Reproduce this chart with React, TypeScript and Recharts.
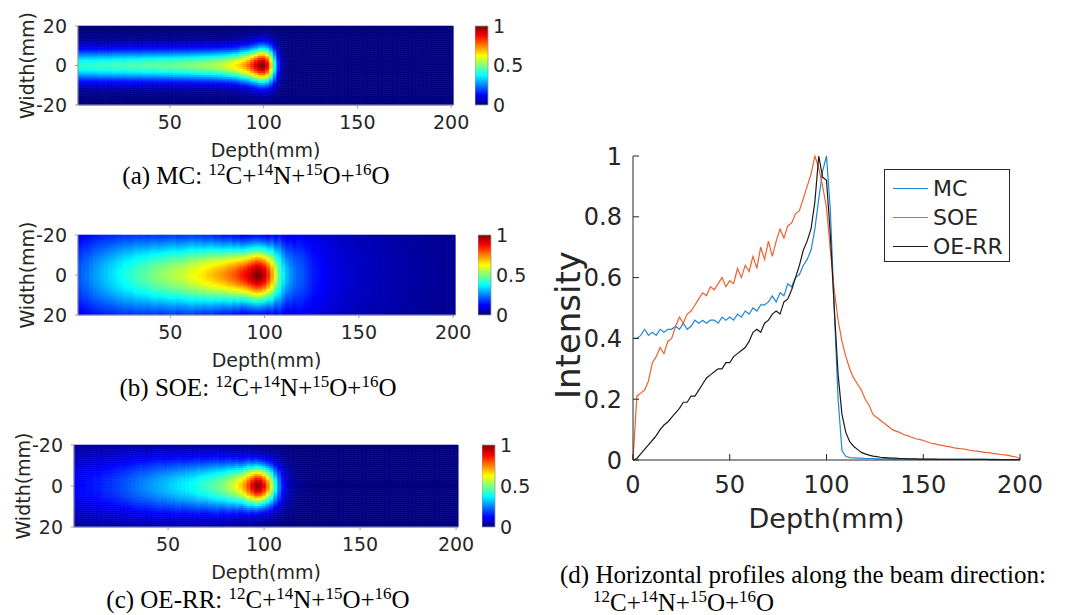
import React from 'react';
import { ComposedChart, BarChart, LineChart, Bar, Line, Cell, XAxis, YAxis, Legend } from 'recharts';

// depth grid (mm), 2 mm steps
const depths = Array.from({ length: 101 }, (_, i) => i * 2);

// (d) horizontal profiles along the beam, read every 2 mm
const mcProfile = [
  0.40, 0.40, 0.41, 0.43, 0.41, 0.42, 0.41, 0.43, 0.42, 0.43,
  0.43, 0.44, 0.43, 0.45, 0.43, 0.44, 0.46, 0.45, 0.46, 0.45,
  0.46, 0.46, 0.45, 0.47, 0.46, 0.47, 0.46, 0.48, 0.47, 0.49,
  0.48, 0.50, 0.49, 0.51, 0.51, 0.52, 0.54, 0.52, 0.55, 0.54,
  0.58, 0.57, 0.60, 0.61, 0.64, 0.66, 0.69, 0.76, 0.86, 0.95,
  1.00, 0.82, 0.50, 0.20, 0.03, 0.012, 0.008, 0.007, 0.006, 0.006,
  0.005, 0.005, 0.005, 0.004, 0.004, 0.004, 0.004, 0.003, 0.003, 0.003,
  0.003, 0.003, 0.003, 0.003, 0.002, 0.003, 0.002, 0.002, 0.002, 0.002,
  0.002, 0.002, 0.002, 0.002, 0.002, 0.002, 0.002, 0.002, 0.002, 0.002,
  0.002, 0.002, 0.002, 0.001, 0.002, 0.001, 0.001, 0.001, 0.001, 0.001,
  0.001,
];
const soeProfile = [
  0.00, 0.21, 0.22, 0.23, 0.26, 0.32, 0.34, 0.37, 0.35, 0.39,
  0.40, 0.44, 0.47, 0.45, 0.48, 0.49, 0.51, 0.53, 0.55, 0.54,
  0.57, 0.56, 0.58, 0.60, 0.57, 0.59, 0.58, 0.63, 0.60, 0.64,
  0.62, 0.67, 0.63, 0.70, 0.66, 0.72, 0.67, 0.72, 0.76, 0.73,
  0.77, 0.78, 0.81, 0.82, 0.86, 0.90, 0.94, 1.00, 0.96, 0.90,
  0.83, 0.69, 0.56, 0.46, 0.39, 0.34, 0.30, 0.27, 0.25, 0.23,
  0.20, 0.18, 0.15, 0.14, 0.13, 0.12, 0.11, 0.10, 0.095, 0.09,
  0.083, 0.08, 0.075, 0.07, 0.068, 0.064, 0.06, 0.055, 0.053, 0.05,
  0.048, 0.045, 0.043, 0.04, 0.038, 0.037, 0.035, 0.032, 0.03, 0.029,
  0.027, 0.025, 0.024, 0.022, 0.02, 0.018, 0.017, 0.015, 0.012, 0.01,
  0.004,
];
const oerrProfile = [
  0.00, 0.005, 0.02, 0.035, 0.05, 0.065, 0.08, 0.10, 0.115, 0.125,
  0.14, 0.155, 0.17, 0.19, 0.19, 0.21, 0.21, 0.23, 0.25, 0.27,
  0.28, 0.29, 0.30, 0.30, 0.32, 0.32, 0.34, 0.35, 0.36, 0.37,
  0.39, 0.42, 0.43, 0.42, 0.45, 0.46, 0.48, 0.49, 0.48, 0.52,
  0.53, 0.56, 0.60, 0.64, 0.69, 0.72, 0.76, 0.85, 1.00, 0.93,
  0.92, 0.74, 0.50, 0.28, 0.15, 0.09, 0.06, 0.045, 0.035, 0.025,
  0.02, 0.016, 0.013, 0.011, 0.009, 0.008, 0.007, 0.006, 0.006, 0.005,
  0.005, 0.004, 0.004, 0.004, 0.003, 0.003, 0.003, 0.003, 0.003, 0.002,
  0.002, 0.002, 0.002, 0.002, 0.002, 0.002, 0.002, 0.002, 0.002, 0.002,
  0.002, 0.002, 0.001, 0.002, 0.001, 0.001, 0.001, 0.001, 0.001, 0.001,
  0.001,
];

// (a)-(c) intensity on the beam axis of each map, read every 2 mm
const mcMapAxis = [
  0.41, 0.41, 0.42, 0.42, 0.42, 0.42, 0.43, 0.43, 0.43, 0.43,
  0.44, 0.44, 0.44, 0.44, 0.45, 0.45, 0.45, 0.45, 0.46, 0.46,
  0.46, 0.46, 0.47, 0.47, 0.47, 0.47, 0.48, 0.48, 0.48, 0.49,
  0.49, 0.50, 0.50, 0.51, 0.52, 0.52, 0.53, 0.54, 0.55, 0.56,
  0.58, 0.60, 0.62, 0.65, 0.68, 0.72, 0.77, 0.84, 0.92, 0.98,
  1.00, 0.90, 0.68, 0.40, 0.16, 0.05, 0.015, 0.005, 0, 0,
  0, 0, 0, 0, 0, 0, 0, 0, 0, 0,
  0, 0, 0, 0, 0, 0, 0, 0, 0, 0,
  0, 0, 0, 0, 0, 0, 0, 0, 0, 0,
  0, 0, 0, 0, 0, 0, 0, 0, 0, 0,
  0,
];
const soeMapAxis = [
  0.20, 0.21, 0.23, 0.24, 0.26, 0.28, 0.29, 0.31, 0.32, 0.34,
  0.35, 0.37, 0.38, 0.40, 0.41, 0.42, 0.44, 0.45, 0.46, 0.47,
  0.49, 0.50, 0.51, 0.52, 0.53, 0.54, 0.55, 0.56, 0.57, 0.58,
  0.60, 0.61, 0.62, 0.64, 0.65, 0.67, 0.68, 0.70, 0.71, 0.73,
  0.75, 0.77, 0.79, 0.82, 0.85, 0.88, 0.92, 0.96, 1.00, 0.98,
  0.93, 0.84, 0.72, 0.58, 0.46, 0.37, 0.31, 0.27, 0.24, 0.22,
  0.21, 0.19, 0.17, 0.15, 0.14, 0.13, 0.12, 0.11, 0.10, 0.095,
  0.09, 0.085, 0.08, 0.075, 0.07, 0.068, 0.065, 0.062, 0.06, 0.057,
  0.055, 0.052, 0.05, 0.048, 0.046, 0.044, 0.042, 0.04, 0.038, 0.036,
  0.035, 0.033, 0.032, 0.03, 0.029, 0.027, 0.026, 0.025, 0.024, 0.023,
  0.022,
];
const oerrMapAxis = [
  0.12, 0.12, 0.13, 0.13, 0.14, 0.14, 0.15, 0.15, 0.16, 0.17,
  0.17, 0.18, 0.19, 0.20, 0.21, 0.22, 0.23, 0.24, 0.25, 0.26,
  0.27, 0.28, 0.29, 0.30, 0.31, 0.32, 0.33, 0.34, 0.35, 0.36,
  0.37, 0.38, 0.39, 0.41, 0.42, 0.43, 0.45, 0.46, 0.48, 0.50,
  0.52, 0.55, 0.58, 0.62, 0.67, 0.73, 0.81, 0.90, 0.98, 0.97,
  0.88, 0.75, 0.58, 0.40, 0.25, 0.14, 0.08, 0.045, 0.025, 0.015,
  0.01, 0.007, 0.005, 0.003, 0.002, 0, 0, 0, 0, 0,
  0, 0, 0, 0, 0, 0, 0, 0, 0, 0,
  0, 0, 0, 0, 0, 0, 0, 0, 0, 0,
  0, 0, 0, 0, 0, 0, 0, 0, 0, 0,
  0,
];

// lateral spread of the beam (sigma in mm), read every 5 mm of depth
const mcSpread = [
  5.5, 5.5, 5.5, 5.5, 5.5, 5.5, 5.5, 5.5, 5.5, 5.5,
  5.5, 5.5, 5.5, 5.5, 5.5, 5.5, 5.5, 5.5, 5.8, 6,
  6.2, 6.2, 6, 6, 6, 6, 6, 6, 6, 6,
  6, 6, 6, 6, 6, 6, 6, 6, 6, 6,
  6,
];
const soeSpread = [
  18, 17.5, 17, 16.5, 16, 15.5, 15, 14.5, 14, 13.5,
  13.5, 13, 13, 12.5, 12, 11.5, 11, 10.5, 10, 10,
  10, 11, 13, 15, 18, 21, 24, 27, 30, 32,
  34, 35, 36, 36, 36, 36, 36, 36, 36, 36,
  36,
];
const oerrSpread = [
  12, 12, 12, 12, 11.5, 11.5, 11, 11, 10.5, 10.5,
  10, 10, 9.5, 9.5, 9, 9, 8.5, 8, 7.5, 7,
  6.8, 7, 7.5, 8, 8.5, 9, 9.5, 10, 10, 10,
  10, 10, 10, 10, 10, 10, 10, 10, 10, 10,
  10,
];

const heatDepthTicks = [50, 100, 150, 200];
const widthTicks = [-20, 0, 20];
const colorbarTicks = [0, 0.5, 1];
const depthTicks = [0, 50, 100, 150, 200];
const intensityTicks = [0, 0.2, 0.4, 0.6, 0.8, 1];

const seriesNames = ['MC', 'SOE', 'OE-RR'];

const SANS = '"DejaVu Sans", sans-serif';
const SERIF = '"Liberation Serif", "Times New Roman", serif';
const INK = '#262626';
const EDGE = '#9a9a9a';

// MATLAB jet colormap
const jet = (v: number) => {
  const t = Math.min(1, Math.max(0, v));
  const c = (x: number) => Math.round(255 * Math.min(1, Math.max(0, x)));
  return `rgb(${c(1.5 - Math.abs(4 * t - 3))},${c(1.5 - Math.abs(4 * t - 2))},${c(1.5 - Math.abs(4 * t - 1))})`;
};
const jetStops = [
  [0, '#000080'],
  [0.125, '#0000ff'],
  [0.375, '#00ffff'],
  [0.625, '#ffff00'],
  [0.875, '#ff0000'],
  [1, '#800000'],
];

// 1 mm rows, stacked up (positive) and down (negative) from the beam axis
const HALF = 20;
const rowKeys = Array.from({ length: HALF * 2 }, (_, k) => `r${k}`);
const rowCentre = (k: number) => (k < HALF ? k + 0.5 : -(k - HALF + 0.5));

const heatData = depths.slice(1).map((d) => {
  const row: Record<string, number> = { d };
  rowKeys.forEach((key, k) => {
    row[key] = k < HALF ? 1 : -1;
  });
  return row;
});

const lineData = depths.map((d, i) => ({
  d,
  mc: mcProfile[i],
  soe: soeProfile[i],
  oerr: oerrProfile[i],
}));

type Frame = { left: number; right: number; top: number; bottom: number; bar: number };

const Sup = ({ children }: { children: React.ReactNode }) => (
  <span style={{ fontSize: '0.68em', verticalAlign: '0.55em', lineHeight: 0 }}>{children}</span>
);
const Nuclides = () => (
  <>
    <Sup>12</Sup>C+<Sup>14</Sup>N+<Sup>15</Sup>O+<Sup>16</Sup>O
  </>
);

function HeatPanel({
  id,
  axis,
  spread,
  reversed,
  frame,
}: {
  id: string;
  axis: number[];
  spread: number[];
  reversed: boolean;
  frame: Frame;
}) {
  const h = frame.bottom - frame.top;
  const tickStyle = { fontSize: 19, fontFamily: SANS, fill: INK };
  const colour = (i: number, k: number) => {
    const d = depths[i + 1];
    const s = spread[Math.round(d / 5)];
    const y = rowCentre(k);
    return jet(axis[i + 1] * Math.exp(-(y * y) / (2 * s * s)));
  };

  return (
    <>
      <div style={{ position: 'absolute', left: 0, top: frame.top - 25 }}>
        <ComposedChart
          width={frame.right + 28}
          height={h + 85}
          data={heatData}
          margin={{ top: 25, right: 28, bottom: 0, left: 0 }}
          stackOffset="sign"
          barCategoryGap={0}
          barGap={0}
        >
          <XAxis dataKey="d" hide height={0} />
          <XAxis
            xAxisId="num"
            type="number"
            dataKey="d"
            domain={[1, 201]}
            ticks={heatDepthTicks}
            interval={0}
            height={60}
            tickSize={3}
            tickMargin={8}
            stroke={EDGE}
            tick={tickStyle}
            label={({ viewBox }: any) => (
              <text
                x={viewBox.x + viewBox.width / 2}
                y={viewBox.y + 45}
                textAnchor="middle"
                dominantBaseline="central"
                fontSize={19}
                fontFamily={SANS}
                fill={INK}
              >
                Depth(mm)
              </text>
            )}
          />
          <XAxis
            xAxisId="top"
            orientation="top"
            type="number"
            dataKey="d"
            domain={[1, 201]}
            ticks={heatDepthTicks}
            interval={0}
            height={0}
            tickSize={3}
            tick={false}
            stroke={EDGE}
          />
          <YAxis
            type="number"
            domain={[-20, 20]}
            ticks={widthTicks}
            interval={0}
            reversed={reversed}
            width={frame.left}
            tickSize={3}
            tickMargin={8}
            stroke={EDGE}
            tick={tickStyle}
            label={({ viewBox }: any) => {
              const cx = viewBox.x + frame.left - 51;
              const cy = viewBox.y + viewBox.height / 2;
              return (
                <text
                  x={cx}
                  y={cy}
                  transform={`rotate(-90, ${cx}, ${cy})`}
                  textAnchor="middle"
                  dominantBaseline="central"
                  fontSize={19}
                  fontFamily={SANS}
                  fill={INK}
                >
                  Width(mm)
                </text>
              );
            }}
          />
          <YAxis
            yAxisId="r"
            orientation="right"
            type="number"
            domain={[-20, 20]}
            ticks={widthTicks}
            interval={0}
            reversed={reversed}
            width={0}
            tickSize={3}
            tick={false}
            stroke={EDGE}
          />
          {rowKeys.map((key, k) => (
            <Bar key={key} dataKey={key} stackId="beam" isAnimationActive={false}>
              {heatData.map((_, i) => {
                const c = colour(i, k);
                return <Cell key={`${id}-${k}-${i}`} fill={c} stroke={c} strokeWidth={0.6} />;
              })}
            </Bar>
          ))}
          <Line xAxisId="num" dataKey="r0" stroke="none" dot={false} activeDot={false} legendType="none" isAnimationActive={false} />
          <Line xAxisId="top" yAxisId="r" dataKey="r0" stroke="none" dot={false} activeDot={false} legendType="none" isAnimationActive={false} />
        </ComposedChart>
      </div>
      <div style={{ position: 'absolute', left: frame.bar, top: frame.top - 15 }}>
        <BarChart
          width={60}
          height={h + 30}
          data={[{ name: 'scale', v: 1 }]}
          margin={{ top: 15, right: 0, bottom: 15, left: 0 }}
          barCategoryGap={0}
        >
          <defs>
            <linearGradient id={`jet-${id}`} x1="0" y1="1" x2="0" y2="0">
              {jetStops.map(([o, c]) => (
                <stop key={String(o)} offset={Number(o)} stopColor={String(c)} />
              ))}
            </linearGradient>
          </defs>
          <XAxis dataKey="name" hide height={0} />
          <YAxis
            orientation="right"
            type="number"
            domain={[0, 1]}
            ticks={colorbarTicks}
            interval={0}
            width={47}
            axisLine={false}
            tickLine={false}
            tickSize={2}
            tickMargin={3}
            tick={tickStyle}
          />
          <Bar dataKey="v" fill={`url(#jet-${id})`} stroke={EDGE} strokeWidth={0.8} isAnimationActive={false} />
        </BarChart>
      </div>
    </>
  );
}

const LegendBox = ({ payload }: any) => {
  const items = (payload || [])
    .filter((p: any) => p.type !== 'none' && seriesNames.includes(p.value))
    .sort((a: any, b: any) => seriesNames.indexOf(a.value) - seriesNames.indexOf(b.value));
  return (
    <div
      style={{
        border: `1px solid ${INK}`,
        background: '#fff',
        padding: '4px 6px 0 8px',
        fontFamily: SANS,
        fontSize: 22,
        color: INK,
        lineHeight: 1,
      }}
    >
      {items.map((p: any) => (
        <div key={p.value} style={{ display: 'flex', alignItems: 'center', height: 29 }}>
          <span
            style={{
              display: 'inline-block',
              width: 35,
              borderTop: `1.5px solid ${p.color}`,
              marginRight: 5,
            }}
          />
          {p.value}
        </div>
      ))}
    </div>
  );
};

function ProfileChart() {
  const tickStyle = { fontSize: 24, fontFamily: SANS, fill: INK };
  return (
    <div style={{ position: 'absolute', left: 545, top: 140 }}>
      <LineChart width={520} height={400} data={lineData} margin={{ top: 16, right: 45, bottom: 0, left: 0 }}>
        <XAxis
          type="number"
          dataKey="d"
          domain={[0, 200]}
          ticks={depthTicks}
          interval={0}
          height={80}
          tickSize={-6}
          tickMargin={22}
          stroke={INK}
          tick={tickStyle}
          label={({ viewBox }: any) => (
            <text
              x={viewBox.x + viewBox.width / 2}
              y={viewBox.y + 58}
              textAnchor="middle"
              dominantBaseline="central"
              fontSize={27}
              fontFamily={SANS}
              fill={INK}
            >
              Depth(mm)
            </text>
          )}
        />
        <XAxis
          xAxisId="top"
          orientation="top"
          type="number"
          dataKey="d"
          domain={[0, 200]}
          ticks={depthTicks}
          interval={0}
          height={0}
          tickSize={-6}
          tick={false}
          stroke={INK}
        />
        <YAxis
          type="number"
          domain={[0, 1]}
          ticks={intensityTicks}
          interval={0}
          width={88}
          tickSize={-6}
          tickMargin={17}
          stroke={INK}
          tick={tickStyle}
          label={({ viewBox }: any) => {
            const cx = viewBox.x + 23;
            const cy = viewBox.y + viewBox.height / 2 + 17;
            return (
              <text
                x={cx}
                y={cy}
                transform={`rotate(-90, ${cx}, ${cy})`}
                textAnchor="middle"
                dominantBaseline="central"
                fontSize={34}
                fontFamily={SANS}
                fill={INK}
              >
                Intensity
              </text>
            );
          }}
        />
        <YAxis
          yAxisId="r"
          orientation="right"
          type="number"
          domain={[0, 1]}
          ticks={intensityTicks}
          interval={0}
          width={0}
          tickSize={-6}
          tick={false}
          stroke={INK}
        />
        <Line dataKey="mc" name="MC" stroke="#1f87d6" strokeWidth={1.2} dot={false} isAnimationActive={false} />
        <Line dataKey="soe" name="SOE" stroke="#f0612c" strokeWidth={1.2} dot={false} isAnimationActive={false} />
        <Line dataKey="oerr" name="OE-RR" stroke="#1a1a1a" strokeWidth={1.2} dot={false} isAnimationActive={false} />
        <Line xAxisId="top" yAxisId="r" dataKey="mc" stroke="none" dot={false} activeDot={false} legendType="none" isAnimationActive={false} />
        <Legend
          layout="vertical"
          align="center"
          verticalAlign="middle"
          content={<LegendBox />}
          wrapperStyle={{ left: 339, top: 29, width: 'auto' }}
        />
      </LineChart>
    </div>
  );
}

const captionStyle: React.CSSProperties = {
  position: 'absolute',
  fontFamily: SERIF,
  fontSize: 25,
  lineHeight: '26px',
  color: '#000',
  whiteSpace: 'nowrap',
};

export default function App() {
  const frameA: Frame = { left: 78, right: 453, top: 26, bottom: 105, bar: 475 };
  const frameB: Frame = { left: 78, right: 455, top: 235, bottom: 315, bar: 478 };
  const frameC: Frame = { left: 74, right: 458, top: 445, bottom: 527, bar: 482 };

  return (
    <div
      style={{
        position: 'absolute',
        left: 0,
        top: 0,
        width: 1085,
        height: 615,
        background: '#fff',
        overflow: 'hidden',
      }}
    >
      <HeatPanel id="mc" axis={mcMapAxis} spread={mcSpread} reversed={false} frame={frameA} />
      <HeatPanel id="soe" axis={soeMapAxis} spread={soeSpread} reversed={true} frame={frameB} />
      <HeatPanel id="oerr" axis={oerrMapAxis} spread={oerrSpread} reversed={true} frame={frameC} />
      <ProfileChart />

      <div style={{ ...captionStyle, left: 56, width: 400, top: 163, textAlign: 'center' }}>
        (a) MC: <Nuclides />
      </div>
      <div style={{ ...captionStyle, left: 58, width: 400, top: 375, textAlign: 'center' }}>
        (b) SOE: <Nuclides />
      </div>
      <div style={{ ...captionStyle, left: 58, width: 400, top: 587, textAlign: 'center' }}>
        (c) OE-RR: <Nuclides />
      </div>
      <div style={{ ...captionStyle, left: 560, top: 562 }}>
        (d) Horizontal profiles along the beam direction:
      </div>
      <div style={{ ...captionStyle, left: 593, top: 590 }}>
        <Nuclides />
      </div>
    </div>
  );
}
